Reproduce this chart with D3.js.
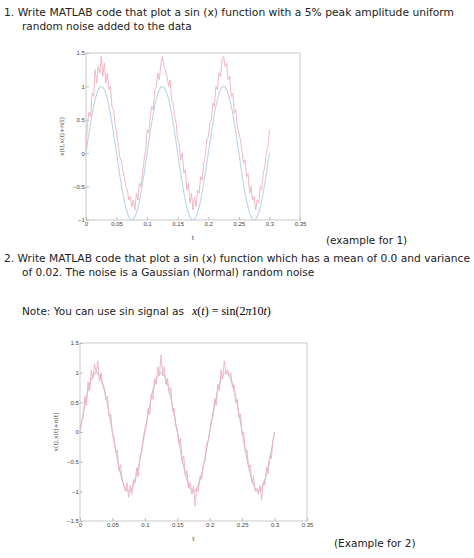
<!DOCTYPE html>
<html><head><meta charset="utf-8">
<script src="https://cdn.jsdelivr.net/npm/d3@7"></script>
<style>
body{margin:0;background:#fff;font-family:"DejaVu Sans",sans-serif;}
svg text.q{fill:#222;}
.tick text{font-size:6px;fill:#444;}
</style></head><body>
<script>
// clean sine, step 0.005
var clean = [0,.309,.588,.809,.951,1,.951,.809,.588,.309,0,-.309,-.588,-.809,-.951,-1,-.951,-.809,-.588,-.309,
  0,.309,.588,.809,.951,1,.951,.809,.588,.309,0,-.309,-.588,-.809,-.951,-1,-.951,-.809,-.588,-.309,
  0,.309,.588,.809,.951,1,.951,.809,.588,.309,0,-.309,-.588,-.809,-.951,-1,-.951,-.809,-.588,-.309,0];
// noisy series, step 0.0025
var noisy1 = [0.05,0.45,0.62,0.55,0.9,0.85,1.25,1.05,1.3,1.2,1.45,1.15,1.35,1.05,1.2,0.95,1.0,0.7,0.65,0.45,
  0.3,0.15,-0.05,-0.1,-0.25,-0.35,-0.5,-0.55,-0.7,-0.65,-0.8,-0.7,-0.85,-0.6,-0.7,-0.45,-0.5,-0.3,-0.1,0.05,
  0.35,0.3,0.55,0.7,0.65,0.95,1.0,1.2,1.1,1.35,1.45,1.3,1.25,1.15,1.0,1.1,0.8,0.75,0.55,0.45,
  0.2,0.15,-0.1,0.0,-0.3,-0.25,-0.55,-0.45,-0.75,-0.6,-0.85,-0.65,-0.8,-0.55,-0.6,-0.35,-0.4,-0.15,-0.05,0.2,
  0.25,0.45,0.5,0.75,0.7,1.0,0.95,1.2,1.15,1.4,1.45,1.3,1.35,1.1,1.15,0.85,0.9,0.6,0.65,0.4,
  0.3,0.2,0.05,-0.15,-0.1,-0.35,-0.3,-0.6,-0.5,-0.7,-0.65,-0.85,-0.7,-0.75,-0.5,-0.55,-0.3,-0.2,0.0,0.1,0.35];
var noisy2 = [0.05,0.2,0.25,0.6,0.45,0.85,0.7,1.05,0.9,1.15,1.0,1.2,0.85,1.0,0.8,0.75,0.55,0.6,0.25,0.3,
  -0.05,-0.1,-0.35,-0.3,-0.65,-0.55,-0.8,-0.9,-1.0,-0.85,-1.1,-0.9,-1.05,-0.8,-0.85,-0.6,-0.75,-0.4,-0.35,-0.1,
  0.05,0.1,0.4,0.3,0.65,0.55,0.9,0.8,1.1,0.95,1.3,0.95,1.1,0.8,0.9,0.65,0.75,0.35,0.4,0.1,
  0.05,-0.2,-0.1,-0.5,-0.4,-0.75,-0.65,-0.95,-0.85,-1.05,-0.9,-1.25,-0.95,-1.0,-0.75,-0.8,-0.55,-0.5,-0.2,-0.15,
  0.0,0.2,0.25,0.55,0.45,0.8,0.7,1.05,0.9,1.2,1.0,1.05,0.95,1.0,0.75,0.8,0.5,0.55,0.25,0.3,
  -0.05,0.0,-0.35,-0.3,-0.6,-0.55,-0.85,-0.75,-1.0,-0.95,-1.05,-0.9,-1.15,-0.85,-0.9,-0.6,-0.7,-0.4,-0.45,-0.15,0.0];
var xTicks = [0,0.05,0.1,0.15,0.2,0.25,0.3,0.35];
var yTicks1 = [-1,-0.5,0,0.5,1,1.5];
var yTicks2 = [-1.5,-1,-0.5,0,0.5,1,1.5];

var svg = d3.select("body").append("svg").attr("width",474).attr("height",558);

function txt(x,y,s,len){
  var t = svg.append("text").attr("class","q").attr("x",x).attr("y",y).style("font-size","10.5px").text(s);
  if(len) t.attr("textLength",len).attr("lengthAdjust","spacingAndGlyphs");
}
txt(4,16,"1.  Write MATLAB code that plot a sin (x) function with a 5% peak amplitude uniform",450);
txt(22,30,"random noise added to the data");
txt(326,244,"(example for 1)");
txt(4,262,"2.  Write MATLAB code that plot a sin (x) function which has a mean of 0.0 and variance",466);
txt(22,276,"of 0.02.  The noise is a Gaussian (Normal) random noise");
txt(22,315,"Note: You can use sin signal as");
svg.append("text").attr("x",192).attr("y",315).style("font-family","Liberation Serif,serif").style("font-size","12px")
  .html("<tspan font-style='italic'>x</tspan>(<tspan font-style='italic'>t</tspan>) = sin(2<tspan font-style='italic'>π</tspan>10<tspan font-style='italic'>t</tspan>)");
txt(334,547,"(Example for 2)");

function chart(x0,x1,y0,y1,ydom,yt,noisy,cleanColor){
  var x = d3.scaleLinear().domain([0,0.35]).range([x0,x1]);
  var y = d3.scaleLinear().domain(ydom).range([y1,y0]);
  var g = svg.append("g");
  g.append("rect").attr("x",x0).attr("y",y0).attr("width",x1-x0).attr("height",y1-y0)
    .attr("fill","none").attr("stroke","#bbb").attr("stroke-width",0.8);
  g.append("g").attr("transform",`translate(0,${y1})`)
    .call(d3.axisBottom(x).tickValues(xTicks).tickSize(-3).tickFormat(d3.format("")))
    .call(a=>{a.select(".domain").remove();a.selectAll("line").attr("stroke","#bbb");a.selectAll("text").attr("dy","0.5em");});
  g.append("g").attr("transform",`translate(${x0},0)`)
    .call(d3.axisLeft(y).tickValues(yt).tickSize(-3).tickFormat(d3.format("")))
    .call(a=>{a.select(".domain").remove();a.selectAll("line").attr("stroke","#bbb");a.selectAll("text").attr("dx","0.3em");});
  g.append("text").attr("x",(x0+x1)/2).attr("y",y1+20).attr("text-anchor","middle").style("font-size","6px").attr("fill","#444").text("t");
  g.append("text").attr("transform",`translate(${x0-22},${(y0+y1)/2}) rotate(-90)`).attr("text-anchor","middle")
    .style("font-size","6px").attr("fill","#444").text("x(t),x(t)+n(t)");
  g.append("path").datum(clean).attr("fill","none").attr("stroke",cleanColor).attr("stroke-width",1.1)
    .attr("d",d3.line().x((d,i)=>x(i*0.005)).y(d=>y(d)).curve(d3.curveCardinal));
  g.append("path").datum(noisy).attr("fill","none").attr("stroke","#eeb0be").attr("stroke-width",0.9)
    .attr("d",d3.line().x((d,i)=>x(i*0.0025)).y(d=>y(d)));
}
chart(86,300,53,220,[-1,1.5],yTicks1,noisy1,"#bcd4e8");
chart(80,307,343,521,[-1.5,1.5],yTicks2,noisy2,"#d0c0cc");
</script>
</body></html>
